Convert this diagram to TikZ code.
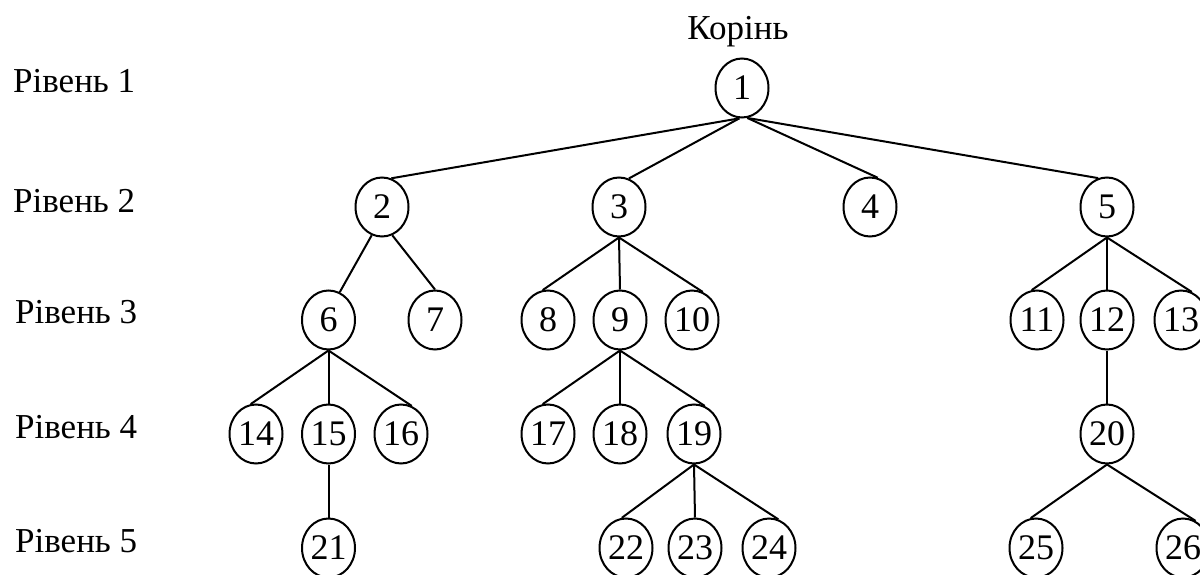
\documentclass[tikz,border=0pt]{standalone}
\usepackage{fontspec}
\setmainfont{Liberation Serif}
\usetikzlibrary{shapes.geometric}
\tikzset{
  nd/.style={ellipse, draw, line width=2pt, minimum width=53pt, minimum height=59pt, inner sep=0pt, font=\fontsize{36}{40}\selectfont},
  lbl/.style={anchor=base west, inner sep=0pt, font=\fontsize{35}{40}\selectfont},
  edge/.style={line width=2pt}
}
\begin{document}
\begin{tikzpicture}[x=1pt,y=-1pt]
\useasboundingbox (0,0) rectangle (1200,575);
% level labels
\node[lbl] (l1) at (13,93) {Рівень 1};
\node[lbl] (l2) at (13,212) {Рівень 2};
\node[lbl] (l3) at (15,323) {Рівень 3};
\node[lbl] (l4) at (15,438) {Рівень 4};
\node[lbl] (l5) at (15,552) {Рівень 5};
\node[anchor=base, inner sep=0pt, font=\fontsize{35}{40}\selectfont] (root) at (738,40) {Корінь};
% nodes
\node[nd] (n1) at (742,88) {1};
\node[nd] (n2) at (382,207) {2};
\node[nd] (n3) at (619,207) {3};
\node[nd] (n4) at (870,207) {4};
\node[nd] (n5) at (1107,207) {5};
\node[nd] (n6) at (328.5,320) {6};
\node[nd] (n7) at (435,320) {7};
\node[nd] (n8) at (548,320) {8};
\node[nd] (n9) at (620,320) {9};
\node[nd] (n10) at (692,320) {10};
\node[nd] (n11) at (1037,320) {11};
\node[nd] (n12) at (1107,320) {12};
\node[nd] (n13) at (1181,320) {13};
\node[nd] (n14) at (256,434) {14};
\node[nd] (n15) at (328.5,434) {15};
\node[nd] (n16) at (401,434) {16};
\node[nd] (n17) at (548,434) {17};
\node[nd] (n18) at (620,434) {18};
\node[nd] (n19) at (694,434) {19};
\node[nd] (n20) at (1107,434) {20};
\node[nd] (n21) at (328.5,548) {21};
\node[nd] (n22) at (626,548) {22};
\node[nd] (n23) at (695,548) {23};
\node[nd] (n24) at (769,548) {24};
\node[nd] (n25) at (1036,548) {25};
\node[nd] (n26) at (1183,548) {26};
% edges
\draw[edge] (n1.265) -- (n2.72);
\draw[edge] (n1.265) -- (n3.71);
\draw[edge] (n1.280) -- (n4.75);
\draw[edge] (n1.280) -- (n5.107);
\draw[edge] (n2.250) -- (n6.68);
\draw[edge] (n2.290) -- (n7.90);
\draw[edge] (n3.south) -- (n8.100);
\draw[edge] (n3.south) -- (n9.north);
\draw[edge] (n3.south) -- (n10.69);
\draw[edge] (n5.south) -- (n11.100);
\draw[edge] (n5.south) -- (n12.north);
\draw[edge] (n5.south) -- (n13.69);
\draw[edge] (n6.south) -- (n14.100);
\draw[edge] (n6.south) -- (n15.north);
\draw[edge] (n6.south) -- (n16.69);
\draw[edge] (n9.south) -- (n17.100);
\draw[edge] (n9.south) -- (n18.north);
\draw[edge] (n9.south) -- (n19.69);
\draw[edge] (n12.south) -- (n20.north);
\draw[edge] (n15.south) -- (n21.north);
\draw[edge] (n19.south) -- (n22.98);
\draw[edge] (n19.south) -- (n23.north);
\draw[edge] (n19.south) -- (n24.72);
\draw[edge] (n20.south) -- (n25.100);
\draw[edge] (n20.south) -- (n26.65);
\end{tikzpicture}
\end{document}
